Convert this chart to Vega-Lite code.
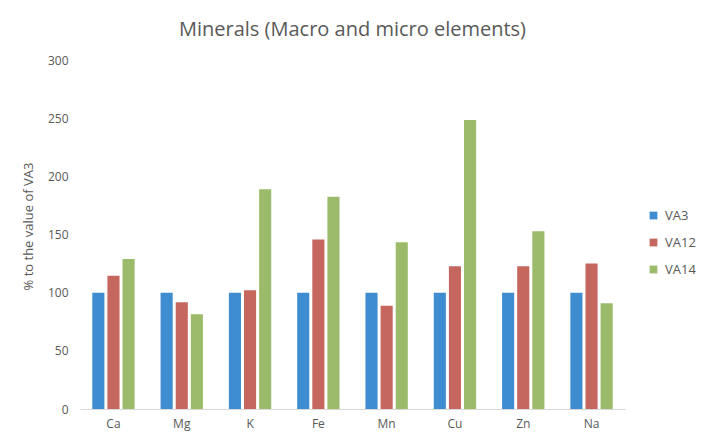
{
  "$schema": "https://vega.github.io/schema/vega-lite/v6.json",
  "width": 545,
  "height": 349,
  "autosize": "none",
  "padding": {"left": 80, "top": 60, "right": 83, "bottom": 37},
  "background": "white",
  "title": {
    "text": "Minerals (Macro and micro elements)",
    "font": "Open Sans",
    "fontSize": 20,
    "fontWeight": "normal",
    "color": "#595959",
    "anchor": "middle",
    "offset": 14
  },
  "data": {
    "values": [
      {"el": "Ca", "s": "VA3", "v": 100}, {"el": "Ca", "s": "VA12", "v": 114.6}, {"el": "Ca", "s": "VA14", "v": 129},
      {"el": "Mg", "s": "VA3", "v": 100}, {"el": "Mg", "s": "VA12", "v": 91.7}, {"el": "Mg", "s": "VA14", "v": 81.4},
      {"el": "K", "s": "VA3", "v": 100}, {"el": "K", "s": "VA12", "v": 102}, {"el": "K", "s": "VA14", "v": 189},
      {"el": "Fe", "s": "VA3", "v": 100}, {"el": "Fe", "s": "VA12", "v": 145.6}, {"el": "Fe", "s": "VA14", "v": 182.5},
      {"el": "Mn", "s": "VA3", "v": 100}, {"el": "Mn", "s": "VA12", "v": 88.8}, {"el": "Mn", "s": "VA14", "v": 143.3},
      {"el": "Cu", "s": "VA3", "v": 100}, {"el": "Cu", "s": "VA12", "v": 122.7}, {"el": "Cu", "s": "VA14", "v": 248.5},
      {"el": "Zn", "s": "VA3", "v": 100}, {"el": "Zn", "s": "VA12", "v": 122.7}, {"el": "Zn", "s": "VA14", "v": 152.8},
      {"el": "Na", "s": "VA3", "v": 100}, {"el": "Na", "s": "VA12", "v": 125}, {"el": "Na", "s": "VA14", "v": 90.9}
    ]
  },
  "mark": {"type": "bar"},
  "encoding": {
    "x": {
      "field": "el", "type": "nominal", "sort": null,
      "scale": {"paddingInner": 0.38, "paddingOuter": 0.18},
      "axis": {"title": null, "labelAngle": 0, "ticks": false, "domainColor": "#d9d9d9", "labelColor": "#595959", "labelFont": "Open Sans", "labelFontSize": 12, "labelPadding": 9}
    },
    "xOffset": {"field": "s", "type": "nominal", "sort": ["VA3", "VA12", "VA14"], "scale": {"paddingInner": 0.2}},
    "y": {
      "field": "v", "type": "quantitative",
      "scale": {"domain": [0, 300]},
      "axis": {"title": "% to the value of VA3", "titleY": 166, "values": [0, 50, 100, 150, 200, 250, 300], "grid": false, "domain": false, "ticks": false, "labelColor": "#595959", "labelFont": "Open Sans", "labelFontSize": 12, "labelPadding": 12, "titleColor": "#595959", "titleFont": "Open Sans", "titleFontSize": 13, "titleFontWeight": "normal", "titlePadding": 12}
    },
    "color": {
      "field": "s", "type": "nominal", "sort": ["VA3", "VA12", "VA14"],
      "scale": {"domain": ["VA3", "VA12", "VA14"], "range": ["#3E8DD0", "#C5675F", "#9BBB6A"]},
      "legend": {"title": null, "orient": "none", "legendX": 567, "legendY": 149, "symbolType": "square", "symbolSize": 60, "rowPadding": 13, "labelOffset": 5, "labelFont": "Open Sans", "labelFontSize": 13, "labelColor": "#595959"}
    }
  },
  "config": {"view": {"stroke": null}}
}
